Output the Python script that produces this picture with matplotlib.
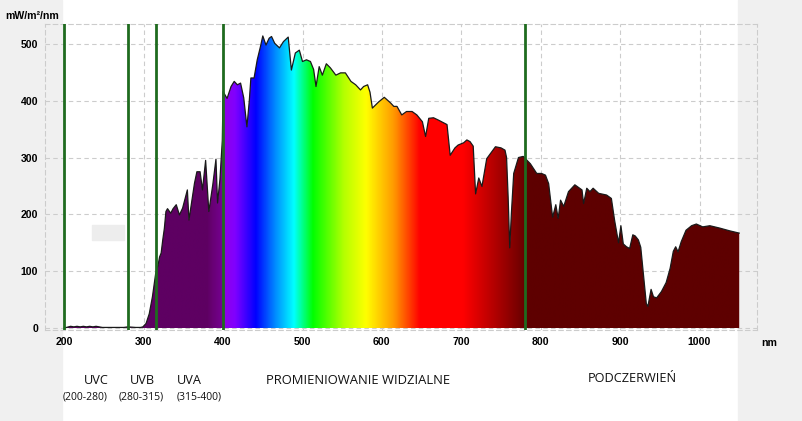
import numpy as np
import matplotlib
matplotlib.use("Agg")
import matplotlib.pyplot as plt
from matplotlib.colors import LinearSegmentedColormap, Normalize
from matplotlib.patches import Rectangle

# solar irradiance (nm, mW/m2/nm)
wavelength = [200, 205, 208, 212, 216, 220, 224, 228, 232, 236, 240, 244, 248, 255, 265, 275, 280, 290, 296,
              299, 303, 307, 311, 315, 318, 320, 322, 324, 326, 328, 330, 334, 337, 341, 345, 349, 355, 357,
              362, 364, 367, 371, 374, 378, 382, 387, 391, 393, 396, 399, 400, 405, 410, 414, 418, 422, 426,
              430, 433, 435, 439, 443, 447, 450, 454, 458, 461, 465, 468, 471, 476, 482, 486, 491, 496, 500,
              505, 510, 514, 517, 521, 525, 530, 535, 542, 548, 554, 561, 567, 573, 577, 582, 585, 588, 596,
              603, 611, 615, 619, 625, 631, 638, 644, 651, 655, 659, 665, 671, 682, 686, 692, 696, 703, 707,
              711, 715, 718, 722, 726, 732, 743, 750, 755, 757, 759, 761, 763, 766, 772, 778, 787, 795, 801,
              806, 810, 815, 819, 822, 825, 829, 835, 843, 852, 854, 858, 862, 866, 873, 883, 889, 893, 898,
              901, 904, 908, 912, 916, 919, 923, 926, 929, 933, 935, 939, 942, 946, 952, 958, 963, 967, 970,
              973, 977, 983, 990, 996, 1004, 1013, 1025, 1038, 1050]
irradiance = [0, 2, 3, 2, 3, 2, 3, 2, 3, 2, 3, 2, 1, 1, 1, 1, 2, 1, 1,
              2, 8, 25, 55, 95, 110, 125, 132, 155, 175, 205, 210, 202, 210, 217, 199, 211, 243, 190,
              237, 255, 275, 275, 243, 295, 205, 252, 297, 220, 261, 330, 416, 404, 425, 434, 428, 431, 405,
              354, 400, 440, 440, 472, 495, 514, 498, 510, 513, 501, 497, 493, 504, 512, 454, 484, 489, 469,
              472, 469, 455, 425, 460, 445, 465, 458, 445, 449, 449, 434, 428, 419, 425, 428, 415, 387, 398,
              406, 396, 390, 390, 375, 381, 381, 375, 363, 337, 369, 370, 366, 358, 304, 317, 322, 326, 331,
              328, 320, 236, 264, 249, 298, 319, 317, 313, 300, 230, 141, 200, 272, 300, 302, 289, 272, 272,
              269, 254, 195, 217, 193, 225, 214, 240, 252, 243, 219, 246, 240, 246, 237, 234, 228, 190, 150,
              180, 148, 143, 140, 164, 162, 155, 142, 100, 43, 38, 68, 55, 53, 64, 80, 105, 135, 143,
              134, 152, 172, 180, 183, 178, 180, 176, 171, 167]

# band limits and labels
band_edges = [200, 280, 315, 400, 780]
band_labels = [("UVC", "(200-280)"), ("UVB", "(280-315)"), ("UVA", "(315-400)")]

# colour stops of the filled spectrum
stop_nm = [175, 380, 386, 398, 401, 415, 441, 465, 489, 513, 552, 580, 615, 648, 702, 757, 779, 781, 1075]
stop_col = ["#5e0062", "#5e0062", "#680074", "#74008e", "#9000e8", "#8000ff", "#0000ff", "#0088ff",
            "#00ffff", "#00ff00", "#b4ff00", "#ffff00", "#ff9900", "#ff0000", "#ff0000", "#960000",
            "#6a0000", "#5e0000", "#5e0000"]

xmin, xmax = 175.7, 1072.4
ymin, ymax = -3.5, 535

fig = plt.figure(figsize=(8.02, 4.21), dpi=100)
fig.patch.set_facecolor("white")
gray = "#f0f0f0"
fig.patches.append(Rectangle((0, 0), 62 / 802, 1, transform=fig.transFigure, color=gray, zorder=-10))
fig.patches.append(Rectangle((738 / 802, 0), 64 / 802, 1, transform=fig.transFigure, color=gray, zorder=-10))
fig.patches.append(Rectangle((92 / 802, 1 - 240 / 421), 32 / 802, 15 / 421, transform=fig.transFigure,
                             color="#ededed", zorder=-10))

ax = fig.add_axes([45 / 802, 1 - 330 / 421, 712 / 802, 306 / 421])
ax.set_facecolor("none")

# spectrum fill as gradient clipped to the curve
poly = ax.fill_between(wavelength, irradiance, 0, facecolor="none", edgecolor="none")
lo, hi = stop_nm[0], stop_nm[-1]
pos = [(n - lo) / (hi - lo) for n in stop_nm]
cmap = LinearSegmentedColormap.from_list("spec", list(zip(pos, stop_col)), N=1024)
grad = np.linspace(lo, hi, 1600).reshape(1, -1)
im = ax.imshow(grad, extent=[lo, hi, 0, ymax], aspect="auto", origin="lower",
               cmap=cmap, norm=Normalize(lo, hi), zorder=2, interpolation="bilinear")
im.set_clip_path(poly.get_paths()[0], transform=ax.transData)
ax.plot(wavelength, irradiance, color="#1a1a1a", lw=0.9, zorder=3)

for e in band_edges:
    ax.axvline(e, color="#1f6b1f", lw=2, zorder=4)

ax.set_xlim(xmin, xmax)
ax.set_ylim(ymin, ymax)
ax.set_xticks(range(200, 1001, 100))
ax.set_yticks(range(0, 501, 100))
ax.grid(True, color="#cccccc", linestyle=(0, (4, 3)), lw=0.8, zorder=0)
ax.set_axisbelow(True)
for s in ax.spines.values():
    s.set_color("#cccccc")
    s.set_linestyle((0, (4, 3)))
    s.set_linewidth(0.8)
ax.tick_params(length=0, labelsize=7.6, pad=5)
for lab in ax.get_xticklabels() + ax.get_yticklabels():
    lab.set_fontfamily("Liberation Sans")
    lab.set_fontweight("bold")

fig.text(5 / 802, 1 - 16 / 421, "mW/m\u00b2/nm", ha="left", va="center", fontsize=7.6,
         fontweight="bold", family="Liberation Sans")
fig.text(769 / 802, 1 - 343 / 421, "nm", ha="center", va="center", fontsize=7.6,
         fontweight="bold", family="Liberation Sans")

# band names under the axis
name_x = [96, 142, 189]
range_x = [85, 141, 199]
for (name, rng), nx, rx in zip(band_labels, name_x, range_x):
    fig.text(nx / 802, 1 - 380 / 421, name, ha="center", va="center", fontsize=9.2,
             family="Open Sans", color="#111111")
    fig.text(rx / 802, 1 - 397 / 421, rng, ha="center", va="center", fontsize=7.5,
             family="Open Sans", color="#111111")
fig.text(358 / 802, 1 - 381 / 421, "PROMIENIOWANIE WIDZIALNE", ha="center", va="center",
         fontsize=9.4, family="Open Sans", color="#111111")
fig.text(632 / 802, 1 - 379 / 421, "PODCZERWIE\u0143", ha="center", va="center",
         fontsize=9.2, family="Open Sans", color="#111111")

fig.savefig("out.png", dpi=100)
